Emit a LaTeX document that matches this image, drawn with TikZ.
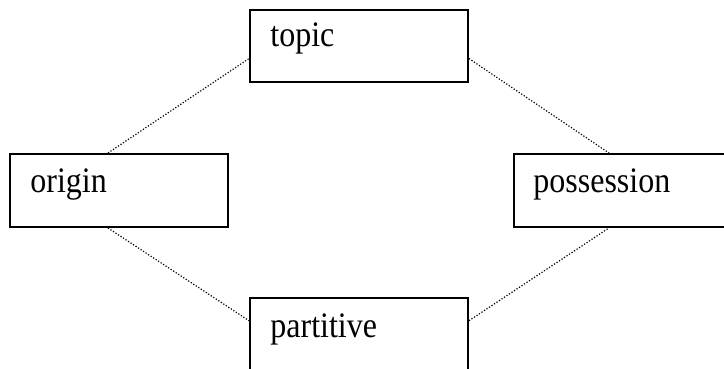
\documentclass[tikz,border=0pt]{standalone}
\usepackage{fontspec}
\setmainfont{Liberation Serif}
\usetikzlibrary{calc}
\newcommand{\tallword}[1]{\scalebox{1}[1.12]{#1}}
\begin{document}
\begin{tikzpicture}[x=0.5pt,y=-0.5pt,
  box/.style={draw=black, line width=1pt, inner sep=0pt, anchor=north west, minimum width=109pt, minimum height=36pt},
  lbl/.style={inner sep=0pt, anchor=base west, font=\fontsize{16}{19}\selectfont},
  link/.style={line width=0.6pt, dash pattern=on 0.6pt off 0.9pt}]
\useasboundingbox (0,0) rectangle (724,369);
\clip (0,0) rectangle (724,369);
\fill[white] (0,0) rectangle (724,369);
\node[box] (topic) at (249,9) {};
\node[box, minimum height=36.5pt] (origin) at (9,153) {};
\node[box, minimum height=36.5pt] (poss) at (513,153) {};
\node[box, minimum height=36pt] (part) at (249,297) {};
\node[lbl] (topict) at (270,47) {\tallword{topic}};
\node[lbl] (origint) at (30,193) {\tallword{origin}};
\node[lbl] (posst) at (533,193) {\tallword{possession}};
\node[lbl] (partt) at (270,337) {\tallword{partitive}};
\draw[link] ($(origin.north west)!0.45!(origin.north east)$) -- ($(topic.north west)!0.67!(topic.south west)$);
\draw[link] ($(topic.north east)!0.67!(topic.south east)$) -- ($(poss.north west)!0.436!(poss.north east)$);
\draw[link] ($(origin.south west)!0.45!(origin.south east)$) -- ($(part.north west)!0.32!(part.south west)$);
\draw[link] ($(part.north east)!0.32!(part.south east)$) -- ($(poss.south west)!0.436!(poss.south east)$);
\end{tikzpicture}
\end{document}
